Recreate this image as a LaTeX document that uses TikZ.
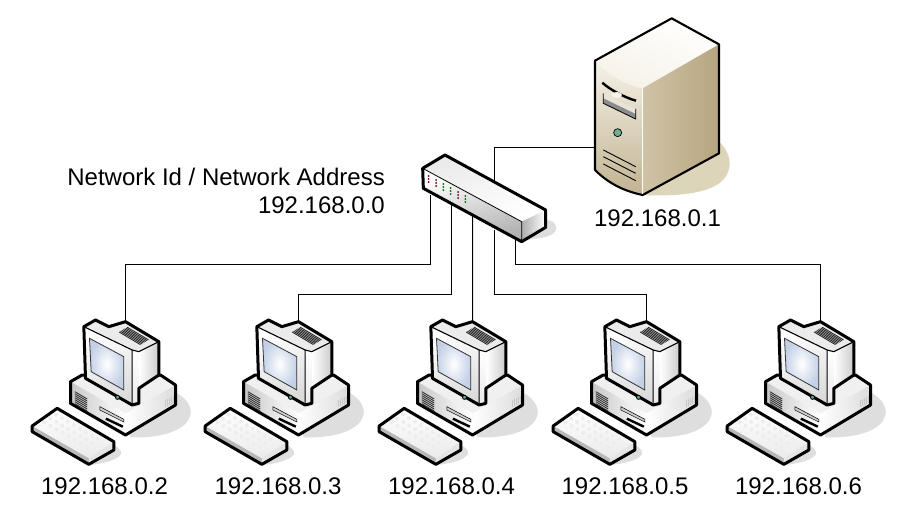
\documentclass[tikz,border=0pt]{standalone}
\usepackage{fontspec}
\setmainfont{Liberation Sans}
\usepackage{tikz}

\definecolor{pcshadow}{HTML}{DEDEDE}
\definecolor{srvshadow}{HTML}{DDD5B9}
\definecolor{srvlight}{HTML}{F6F2E8}
\definecolor{srvmid}{HTML}{E0D7C2}
\definecolor{srvdark}{HTML}{B6A57E}
\definecolor{ledgreen}{HTML}{6DAF90}
\definecolor{screenblue}{HTML}{C3D0E6}

\tikzset{
	addr/.style={font=\fontsize{24}{28}\selectfont,inner sep=0pt},
	wire/.style={line width=1pt,line join=miter},
	edge/.style={line width=3pt,line join=round},
	pics/computer/.style={code={
		\begin{scope}[scale=0.33333]
			% shadows
			\fill[pcshadow](470,280)..controls(500,295)and(515,325)..(510,345)..controls(500,385)and(440,415)..(330,412)--(300,300)--cycle;
			\fill[pcshadow](280,435)..controls(300,445)and(310,460)..(295,470)..controls(280,482)and(245,492)..(205,495)--cycle;
			% base
			\path[fill=black!6](150,245)--(185,225)--(420,225)--(465,255)--(315,340)--cycle;
			\shade[left color=black!22,right color=white](150,245)--(315,340)--(315,405)--(150,310)--cycle;
			\shade[left color=white,right color=black!14](315,340)--(465,255)--(465,315)--(315,405)--cycle;
			\draw[edge](150,245)--(185,225)--(420,225)--(465,255)--(465,315)--(315,405)--(150,310)--cycle;
			\foreach \v in {0,1,...,6}
				\draw[line width=0.9pt,black!80](163,275+\v*6)--(200,297+\v*6);
			\foreach \v in {0,1,...,4}
				\draw[line width=0.9pt,black!22](435+\v*6,300-\v*3)--(435+\v*6,322-\v*3);
			\draw[line width=0.5pt,fill=black!20](238,320)--(310,358)--(310,366)--(238,330)--cycle;
			\draw[line width=2.4pt](256,356)--(307,380);
			% monitor
			\shade[left color=white,right color=black!20](355,155)--(415,125)--(415,225)--(355,265)--cycle;
			\fill[black!8](190,80)--(225,60)--(265,80)--(315,65)--(415,125)--(355,155)--(335,150)--cycle;
			\shade[top color=white,bottom color=black!8](335,150)--(355,155)--(355,310)--(335,315)--cycle;
			\shade[left color=white,right color=black!14,shading angle=20](190,80)--(335,150)--(335,315)--(195,235)--cycle;
			\draw[edge](190,80)--(225,60)--(265,80)--(315,65)--(415,125)--(415,225)--(355,265)--(355,310)--(335,315)--(195,235)--cycle;
			\draw[line width=1.1pt](190,80)--(335,150)--(335,315);
			\draw[line width=1.1pt](335,150)--(355,155)--(415,125);
			\foreach \v in {0,1,...,6}
				\draw[line width=0.9pt,black!85](296+\v*4,96-\v*2.4)--(360+\v*4,134-\v*2.4);
			\shade[inner color=white,outer color=screenblue,draw=black!80,line width=0.8pt](207,115)--(310,170)--(310,270)--(212,215)--cycle;
			\draw[line width=0.9pt,fill=ledgreen](291,292) circle [radius=6];
			% keyboard
			\shade[top color=white,bottom color=black!8](35,378)--(110,325)--(280,425)--(205,475)--cycle;
			\fill[black!28](35,378)--(205,475)--(205,493)--(35,395)--cycle;
			\fill[black!10](205,475)--(280,425)--(280,450)--(205,493)--cycle;
			\foreach \r in {0,1,2,3}
				\foreach \c in {0,1,...,7}
					\fill[black!7](72+\c*18+\r*17,367+\c*10.5-\r*11.5) circle [radius=6];
			\draw[edge](35,378)--(110,325)--(280,425)--(280,450)--(205,493)--(35,395)--cycle;
			\coordinate(-top) at (315,65);
		\end{scope}
	}}
}

\begin{document}
\begin{tikzpicture}[x=1pt,y=-1pt]
	\useasboundingbox(0,0) rectangle (907,511);

	\pic(pc2) at (20.5,300) {computer};
	\pic(pc3) at (193.5,300) {computer};
	\pic(pc4) at (367.5,300) {computer};
	\pic(pc5) at (541.5,300) {computer};
	\pic(pc6) at (715.5,300) {computer};

	\node[addr](ip2) at (104.5,486) {192.168.0.2};
	\node[addr](ip3) at (278,486) {192.168.0.3};
	\node[addr](ip4) at (451.5,486) {192.168.0.4};
	\node[addr](ip5) at (625,486) {192.168.0.5};
	\node[addr](ip6) at (798.5,486) {192.168.0.6};
	\node[addr](ip1) at (657.5,218) {192.168.0.1};
	\node[addr,anchor=east](netname) at (385,177) {Network Id / Network Address};
	\node[addr,anchor=east](netip) at (385,205) {192.168.0.0};

	% server
	\begin{scope}[shift={(570,10)},scale=0.33333]
		\fill[srvshadow](447,395)..controls(475,420)and(490,460)..(470,495)..controls(445,540)and(370,560)..(218,556)--cycle;
		\shade[left color=srvlight,right color=white,shading angle=160](75,152)--(305,25)--(447,103)--(218,235)..controls(170,225)and(120,200)..(75,152)--cycle;
		\shade[top color=srvlight,bottom color=srvdark!85](75,152)..controls(120,200)and(170,225)..(218,235)--(218,555)..controls(170,545)and(120,525)..(75,480)--cycle;
		\shade[left color=srvmid!60!srvdark,middle color=srvmid,right color=srvdark](218,235)--(447,103)--(447,430)--(218,555)--cycle;
		\draw[line width=2.1pt,line join=round](75,152)--(305,25)--(447,103)--(447,430)--(218,555)..controls(170,545)and(120,525)..(75,480)--cycle;
		\draw[line width=1pt,white](218,235)--(218,553);
		\fill[srvdark!30](100,250)--(197,297)--(197,327)--(100,280)--cycle;
		\fill[black!45](100,265)--(197,312)--(197,327)--(100,280)--cycle;
		\draw[line width=0.8pt](100,250)--(100,280)--(197,327)--(197,297);
		\draw[line width=2.4pt](97,218)..controls(120,240)and(170,265)..(198,272);
		\fill[srvlight](140,255) ellipse [x radius=16,y radius=9];
		\draw[line width=0.7pt,fill=ledgreen](143,368) circle [radius=12];
		\draw[line width=0.9pt](100,420)--(197,470);
		\draw[line width=0.9pt](100,440)--(197,490);
		\draw[line width=0.9pt](100,462)--(197,512);
	\end{scope}
	\coordinate(srvport) at (595,147.5);

	% wires
	\coordinate(swa) at (430.5,195);
	\coordinate(swb) at (451.5,205);
	\coordinate(swc) at (472.5,215);
	\coordinate(swd) at (494.5,230);
	\coordinate(swe) at (515.5,240);
	\coordinate(swf) at (494.5,185);
	\draw[wire](swa)--(430.5,264.5)-|(pc2-top);
	\draw[wire](swb)--(451.5,294.5)-|(pc3-top);
	\draw[wire](swc)--(pc4-top);
	\draw[wire](swd)--(494.5,294.5)-|(pc5-top);
	\draw[wire](swe)--(515.5,264.5)-|(pc6-top);
	\draw[wire](swf)|-(srvport);

	% switch
	\begin{scope}[shift={(400,140)},scale=0.33333]
		\fill[pcshadow](437,240)..controls(465,240)and(480,265)..(460,280)..controls(440,295)and(410,295)..(380,300)--cycle;
		\shade[left color=black!8,right color=white,shading angle=30](68,85)--(135,45)--(437,210)--(365,245)--cycle;
		\shade[left color=white,right color=black!30,shading angle=20](68,85)--(365,245)--(365,305)--(70,145)--cycle;
		\shade[left color=black!32,right color=white](365,245)--(437,210)--(437,262)--(365,305)--cycle;
		\draw[edge](68,85)--(135,45)--(437,210)--(437,262)--(365,305)--(70,145)--cycle;
		\draw[line width=0.8pt](68,85)--(365,245)--(365,305);
		\foreach \c/\col in {0/red!40!black,1/red!40!black,2/green!40!black,3/green!40!black,4/red!40!black,5/green!40!black}
			\foreach \d in {0,1,2}
				\fill[\col](86+\c*22,108+\c*12+\d*9) circle [radius=3];
	\end{scope}
\end{tikzpicture}
\end{document}
